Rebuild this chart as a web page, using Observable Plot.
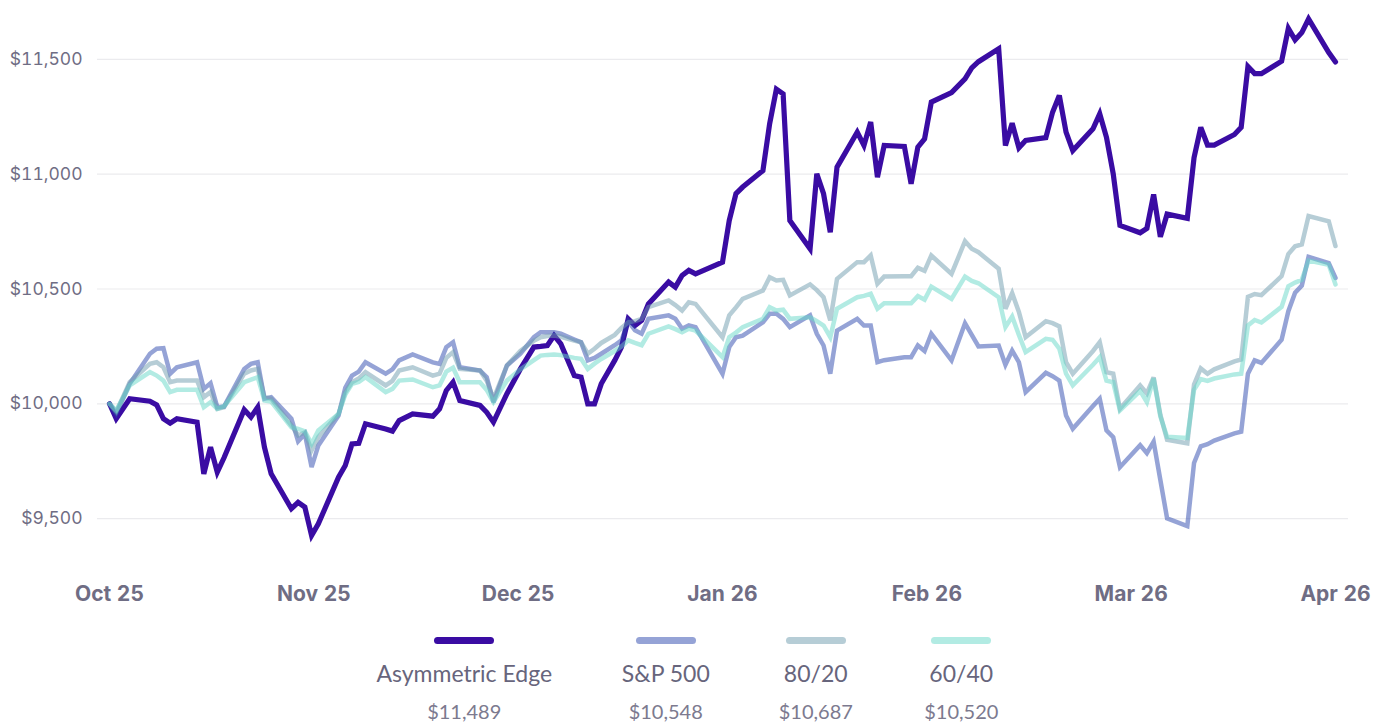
<!DOCTYPE html>
<html>
<head>
<meta charset="utf-8">
<script src="https://cdn.jsdelivr.net/npm/d3@7"></script>
<script src="https://cdn.jsdelivr.net/npm/@observablehq/plot@0.6"></script>
<style>
  html, body { margin: 0; padding: 0; background: #ffffff; }
  #chart svg { display: block; }
  .legend { display: flex; justify-content: center; gap: 72.5px; margin-top: 17px; font-family: Lato, "Noto Sans", sans-serif; }
  .item { display: flex; flex-direction: column; align-items: center; }
  .sw { width: 60px; height: 7px; border-radius: 4px; flex: none; }
  .name { font-size: 23px; line-height: 27px; color: #67657c; margin-top: 16px; white-space: nowrap; }
  .val { font-size: 20px; line-height: 24px; color: #7c7a8f; margin-top: 12px; white-space: nowrap; }
</style>
</head>
<body>
<div id="chart"></div>
<div class="legend" id="legend"></div>
<script>
const dates = [
  "2025-09-30","2025-10-01","2025-10-03","2025-10-06","2025-10-07","2025-10-08","2025-10-09","2025-10-10",
  "2025-10-13","2025-10-14","2025-10-15","2025-10-16","2025-10-17","2025-10-20","2025-10-21","2025-10-22",
  "2025-10-23","2025-10-24","2025-10-27","2025-10-28","2025-10-29","2025-10-30","2025-10-31","2025-11-03",
  "2025-11-04","2025-11-05","2025-11-06","2025-11-07","2025-11-10","2025-11-11","2025-11-12","2025-11-14",
  "2025-11-17","2025-11-18","2025-11-19","2025-11-20","2025-11-21","2025-11-24","2025-11-25","2025-11-26",
  "2025-11-28","2025-11-30","2025-12-02","2025-12-03","2025-12-04","2025-12-05","2025-12-06","2025-12-08",
  "2025-12-09","2025-12-10","2025-12-11","2025-12-12","2025-12-14","2025-12-15","2025-12-16","2025-12-17",
  "2025-12-18","2025-12-19","2025-12-22","2025-12-23","2025-12-24","2025-12-25","2025-12-26","2025-12-30",
  "2025-12-31","2026-01-01","2026-01-02","2026-01-05","2026-01-06","2026-01-07","2026-01-08","2026-01-09",
  "2026-01-12","2026-01-13","2026-01-14","2026-01-15","2026-01-16","2026-01-19","2026-01-20","2026-01-21",
  "2026-01-22","2026-01-23","2026-01-26","2026-01-27","2026-01-28","2026-01-29","2026-01-30","2026-02-02",
  "2026-02-04","2026-02-05","2026-02-06","2026-02-09","2026-02-10","2026-02-11","2026-02-12","2026-02-13",
  "2026-02-16","2026-02-17","2026-02-18","2026-02-19","2026-02-20","2026-02-23","2026-02-24","2026-02-25",
  "2026-02-26","2026-02-27","2026-03-02","2026-03-03","2026-03-04","2026-03-05","2026-03-06","2026-03-09",
  "2026-03-10","2026-03-11","2026-03-12","2026-03-13","2026-03-16","2026-03-17","2026-03-18","2026-03-19",
  "2026-03-20","2026-03-23","2026-03-24","2026-03-25","2026-03-26","2026-03-27","2026-03-30","2026-03-31"
];

const asymmetricEdge = [
  10000,9935,10022,10011,9995,9935,9916,9935,
  9920,9695,9811,9702,9765,9974,9942,9985,
  9811,9695,9543,9571,9550,9426,9477,9680,
  9731,9825,9828,9913,9890,9881,9927,9956,
  9946,9978,10058,10094,10014,9993,9963,9920,
  10044,10152,10247,10250,10254,10297,10261,10123,
  10116,10000,10000,10087,10189,10247,10370,10341,
  10363,10435,10530,10508,10559,10581,10566,10617,
  10798,10915,10944,11016,11220,11370,11350,10798,
  10675,11002,10915,10747,11031,11183,11125,11227,
  10987,11125,11121,10958,11118,11154,11314,11355,
  11415,11463,11490,11546,11125,11222,11115,11147,
  11159,11270,11343,11183,11103,11198,11263,11161,
  11002,10777,10745,10764,10912,10727,10826,10808,
  11072,11204,11127,11127,11173,11204,11469,11438,
  11438,11492,11635,11585,11617,11676,11530,11489
];

const sp500 = [
  10000,9956,10087,10218,10240,10242,10131,10159,
  10181,10065,10090,9985,9988,10152,10174,10181,
  10022,10029,9935,9837,9869,9724,9818,9949,
  10070,10123,10140,10181,10131,10150,10189,10215,
  10180,10174,10247,10268,10159,10145,10116,10007,
  10167,10218,10290,10312,10312,10312,10305,10280,
  10268,10189,10200,10218,10255,10276,10360,10320,
  10305,10370,10385,10370,10327,10341,10334,10131,
  10247,10290,10297,10355,10392,10392,10370,10334,
  10385,10305,10254,10131,10319,10370,10341,10341,
  10181,10190,10203,10203,10254,10230,10305,10189,
  10351,10300,10250,10254,10170,10232,10181,10051,
  10135,10120,10101,9949,9891,9990,10022,9884,
  9855,9724,9820,9785,9835,9668,9501,9467,
  9742,9815,9824,9840,9871,9878,10131,10189,
  10178,10279,10403,10484,10515,10640,10613,10548
];

const mix8020 = [
  10000,9965,10094,10174,10181,10159,10094,10101,
  10101,10029,10051,9978,9985,10131,10145,10152,
  10029,10022,9906,9862,9876,9797,9855,9956,
  10050,10094,10110,10138,10080,10100,10145,10159,
  10123,10131,10200,10225,10152,10145,10100,10022,
  10167,10230,10275,10290,10295,10297,10292,10275,
  10268,10218,10240,10265,10300,10330,10355,10360,
  10370,10421,10450,10430,10406,10442,10435,10290,
  10385,10420,10457,10493,10551,10537,10540,10472,
  10520,10495,10464,10363,10544,10617,10617,10646,
  10523,10554,10556,10556,10592,10579,10646,10566,
  10708,10675,10660,10588,10414,10482,10400,10290,
  10360,10351,10337,10181,10131,10230,10268,10138,
  10131,9978,10080,10045,10115,9952,9843,9828,
  10084,10154,10131,10150,10185,10193,10466,10478,
  10473,10556,10652,10686,10694,10818,10795,10687
];

const mix6040 = [
  10000,9970,10080,10138,10123,10101,10051,10061,
  10061,9985,10007,9978,9990,10094,10105,10116,
  10014,10010,9898,9891,9880,9826,9884,9956,
  10040,10087,10095,10116,10051,10065,10101,10106,
  10072,10080,10140,10157,10094,10094,10060,10007,
  10101,10150,10190,10210,10213,10215,10212,10200,
  10196,10152,10175,10195,10230,10250,10276,10265,
  10255,10305,10337,10325,10312,10327,10319,10203,
  10290,10310,10334,10370,10421,10406,10410,10370,
  10377,10360,10341,10290,10414,10464,10470,10479,
  10414,10438,10438,10438,10469,10453,10510,10457,
  10554,10535,10525,10464,10334,10380,10300,10225,
  10283,10279,10240,10131,10080,10170,10203,10101,
  10094,9971,10056,10007,10111,9945,9856,9851,
  10061,10108,10100,10110,10128,10131,10341,10365,
  10354,10422,10512,10528,10540,10624,10605,10520
];

const seriesNames = ["Asymmetric Edge", "S&P 500", "80/20", "60/40"];
const seriesValues = [asymmetricEdge, sp500, mix8020, mix6040];
const lineColors = ["#3a0ca3", "#2b47ad", "#6d9bad", "#65d7c7"];
const lineOpacity = [1, 0.5, 0.5, 0.5];
const swatchColors = ["#3a0ca3", "#95a3d6", "#b6cdd6", "#b2ebe3"];
const monthLabels = ["Oct 25", "Nov 25", "Dec 25", "Jan 26", "Feb 26", "Mar 26", "Apr 26"];
const yTicks = [9500, 10000, 10500, 11000, 11500];

const parsed = dates.map(d => new Date(d + "T00:00:00Z"));
const tables = seriesValues.map(vals => parsed.map((d, i) => ({date: d, value: vals[i]})));

const x0 = parsed[0], x1 = parsed[parsed.length - 1];
const xTicks = monthLabels.map((_, k) => new Date(+x0 + k * (x1 - x0) / (monthLabels.length - 1)));

const fmt = d3.format(",");
const chart = Plot.plot({
  width: 1374,
  height: 620,
  marginTop: 1.5,
  marginBottom: 56,
  marginLeft: 97,
  marginRight: 26,
  insetLeft: 12,
  insetRight: 13,
  style: {background: "#ffffff", fontFamily: "Inter, sans-serif"},
  x: {type: "utc", domain: [x0, x1]},
  y: {domain: [9300, 11750]},
  marks: [
    Plot.ruleY(yTicks, {stroke: "#ebebee", strokeWidth: 1.2}),
    Plot.axisY({ticks: yTicks, tickSize: 0, tickPadding: 15, tickFormat: d => "$" + fmt(d),
      fontSize: 17.5, fill: "#6f6d84", label: null}),
    Plot.axisX({ticks: xTicks, tickSize: 0, tickPadding: 22, tickFormat: (d, i) => monthLabels[i],
      fontSize: 21, fontWeight: 700, fill: "#6f6d84", label: null}),
    ...[0, 1, 2, 3].map(k => Plot.lineY(tables[k], {
      x: "date", y: "value", stroke: lineColors[k], strokeOpacity: lineOpacity[k],
      strokeWidth: k === 0 ? 5.2 : 4.5, strokeLinejoin: "miter", strokeMiterlimit: 3, curve: "linear"
    }))
  ]
});
document.getElementById("chart").append(chart);

// column widths that the reference's legend items occupy
const itemWidths = [176, 82, 73, 73];
const legend = document.getElementById("legend");
seriesNames.forEach((name, k) => {
  const vals = seriesValues[k];
  const item = document.createElement("div");
  item.className = "item";
  item.style.width = itemWidths[k] + "px";
  item.innerHTML = `<div class="sw" style="background:${swatchColors[k]}"></div>
    <div class="name"></div><div class="val">$${fmt(vals[vals.length - 1])}</div>`;
  item.querySelector(".name").textContent = name;
  legend.append(item);
});
</script>
</body>
</html>
